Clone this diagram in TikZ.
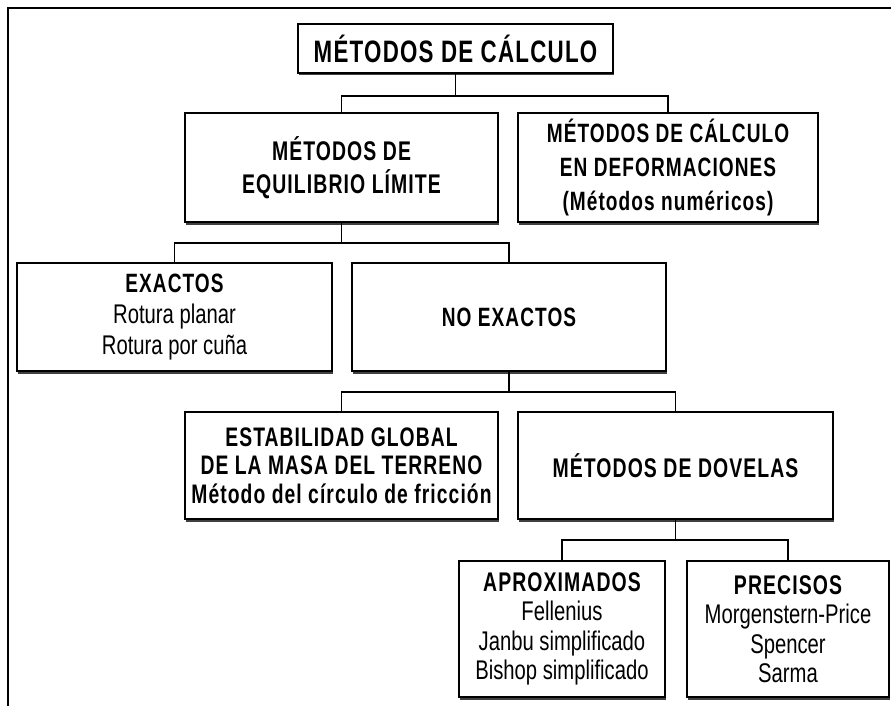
\documentclass[tikz,border=0pt]{standalone}
\usepackage{fontspec}
\usetikzlibrary{shadows}
\newfontfamily\cfb[FakeStretch=0.72,LetterSpace=4]{Liberation Sans Bold}
\newfontfamily\cfr[FakeStretch=0.75]{Liberation Sans}
\begin{document}
\begin{tikzpicture}[x=1pt,y=-1pt,
  box/.style={draw, line width=1.4pt, inner sep=0pt, align=center, fill=white,
    drop shadow={shadow xshift=1pt, shadow yshift=-2.5pt, fill=black!75, opacity=1}},
  wire/.style={line width=1.4pt},
  frame/.style={line width=1.8pt}]
\useasboundingbox (0,0) rectangle (891,706);
\draw[frame] (8,706) -- (8,8) -- (891,8);

\node[box, minimum width=315pt, minimum height=49pt, font=\cfb\fontsize{31}{36}\selectfont] (title) at (455.5,48.5) {MÉTODOS DE CÁLCULO};

\node[box, minimum width=313pt, minimum height=109pt, font=\cfb\fontsize{27}{33}\selectfont] (equil) at (341.5,167.5) {MÉTODOS DE\\EQUILIBRIO LÍMITE};
\node[box, minimum width=300pt, minimum height=109pt, font=\cfb\fontsize{26.5}{34}\selectfont] (deform) at (668,167.5) {MÉTODOS DE CÁLCULO\\EN DEFORMACIONES\\(Métodos numéricos)};

\node[box, minimum width=315pt, minimum height=108pt, font=\cfr\fontsize{27}{31}\selectfont] (exact) at (174.5,317) {{\cfb\fontsize{26.5}{31}\selectfont EXACTOS}\\Rotura planar\\Rotura por cuña};
\node[box, minimum width=314pt, minimum height=108pt, font=\cfb\fontsize{26.5}{31}\selectfont] (noexact) at (509,317) {NO EXACTOS};

\node[box, minimum width=313pt, minimum height=107pt, font=\cfb\fontsize{26.8}{28.5}\selectfont] (estab) at (341.5,465.5) {ESTABILIDAD GLOBAL\\DE LA MASA DEL TERRENO\\Método del círculo de fricción};
\node[box, minimum width=315pt, minimum height=107pt, font=\cfb\fontsize{27}{28}\selectfont] (dovelas) at (675.5,465.5) {MÉTODOS DE DOVELAS};

\node[box, minimum width=206pt, minimum height=136pt, font=\cfr\fontsize{27}{29.5}\selectfont] (aprox) at (562,629) {{\cfb\fontsize{27}{29.5}\selectfont APROXIMADOS}\\Fellenius\\Janbu simplificado\\Bishop simplificado};
\node[box, minimum width=202pt, minimum height=136pt, font=\cfr\fontsize{27}{29.5}\selectfont] (prec) at (788,629) {{\cfb\fontsize{27}{29.5}\selectfont PRECISOS}\\Morgenstern-Price\\Spencer\\Sarma};

\coordinate (b1) at (455.5,96);
\coordinate (b2) at (341.5,243);
\coordinate (b3) at (509,392);
\coordinate (b4) at (675.5,540);

\draw[wire] (title.south) -- (b1);
\draw[wire] (equil.north) |- (b1) -| (deform.north);
\draw[wire] (equil.south) -- (b2);
\draw[wire] (exact.north) |- (b2) -| (noexact.north);
\draw[wire] (noexact.south) -- (b3);
\draw[wire] (estab.north) |- (b3) -| (dovelas.north);
\draw[wire] (dovelas.south) -- (b4);
\draw[wire] (aprox.north) |- (b4) -| (prec.north);
\end{tikzpicture}
\end{document}
